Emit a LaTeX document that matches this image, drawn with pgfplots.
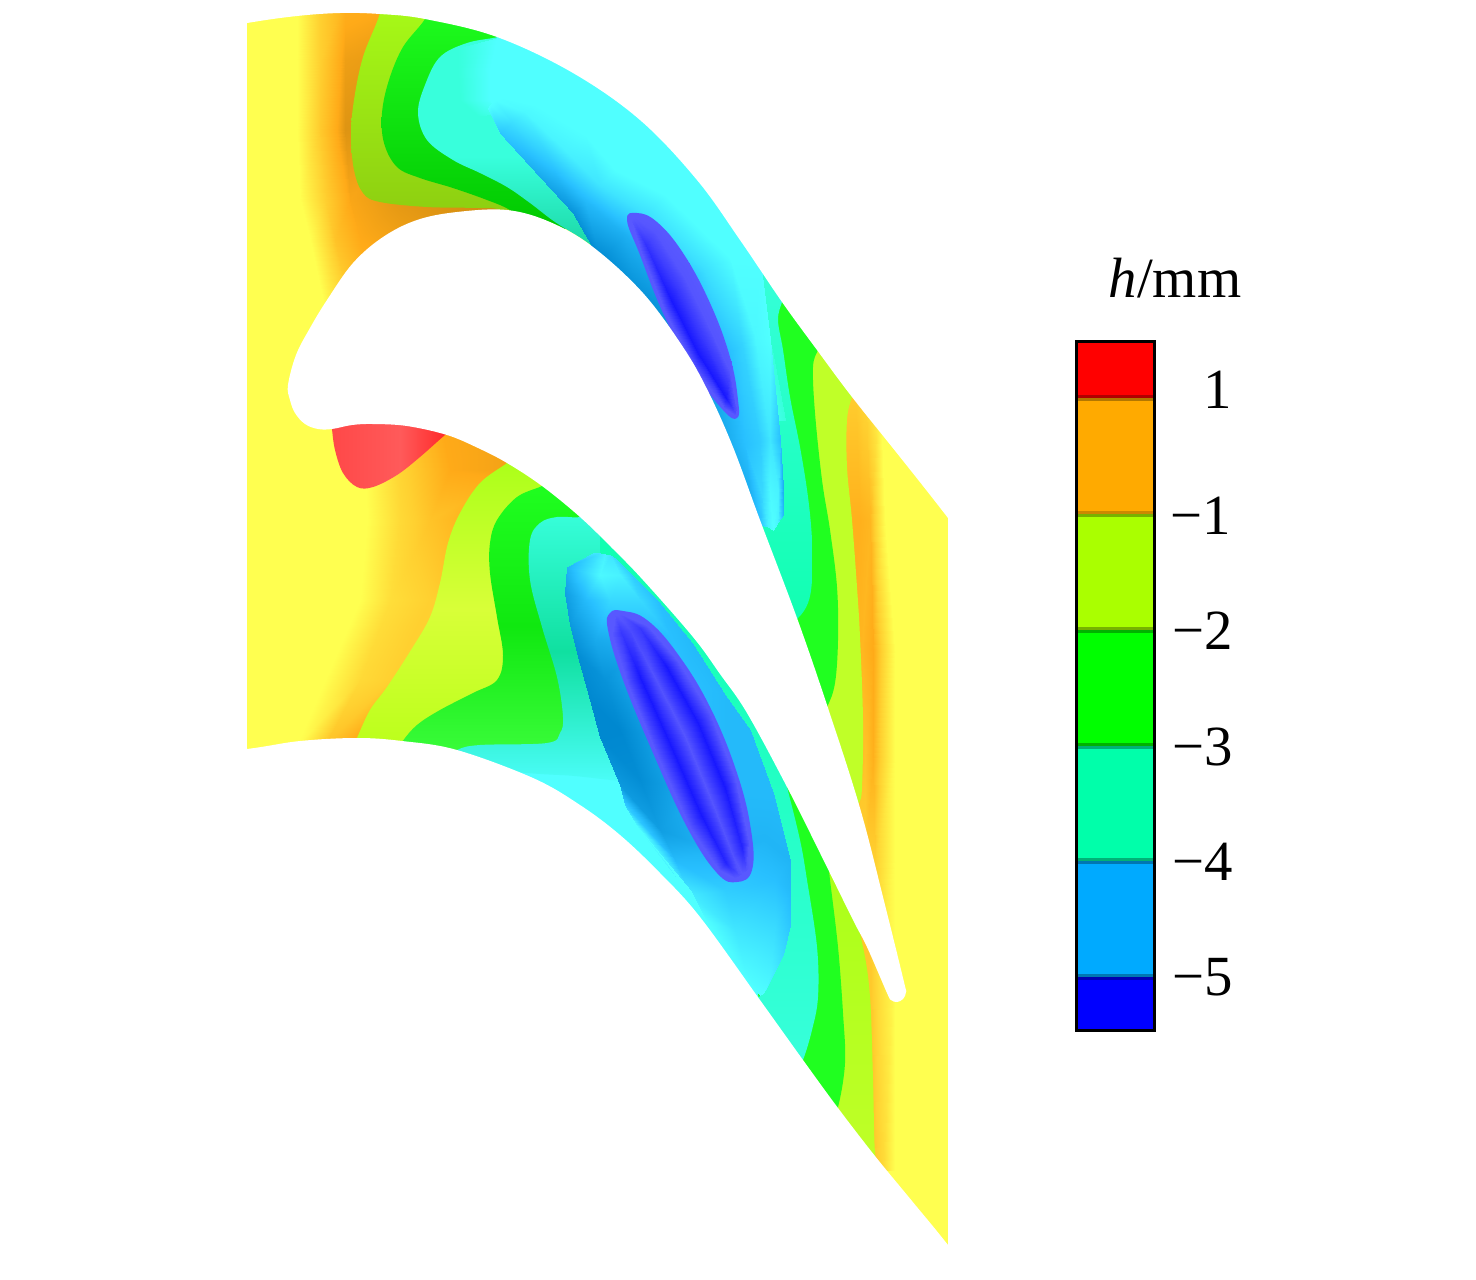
\documentclass[border=0pt]{standalone}
\usepackage{pgfplots}
\pgfplotsset{compat=1.18}
\usepackage{fontspec}
\setmainfont{Liberation Serif}

% contour band colours
\definecolor{cyl}{HTML}{FFFF50}
\definecolor{ccy}{HTML}{50FFFF}
\definecolor{ygA}{HTML}{AAFF18}
\definecolor{ygB}{HTML}{8CCC10}
\definecolor{ygC}{HTML}{D8FF38}
\definecolor{ygD}{HTML}{B8FF18}
\definecolor{ygR}{HTML}{C0FF28}
\definecolor{grA}{HTML}{20FF20}
\definecolor{grB}{HTML}{00C800}
\definecolor{grC}{HTML}{10E810}
\definecolor{grD}{HTML}{40FF40}
\definecolor{aqA}{HTML}{38FFDC}
\definecolor{aqB}{HTML}{10C890}
\definecolor{aqC}{HTML}{10FFB0}
\definecolor{aqD}{HTML}{10E0A0}
\definecolor{lowB}{HTML}{5858FF}
\definecolor{hotA}{HTML}{FF4848}
\definecolor{hotB}{HTML}{FF5A5A}
\definecolor{hotC}{HTML}{FF1010}
\definecolor{barO}{HTML}{FFAA00}
\definecolor{barY}{HTML}{AAFF00}
\definecolor{barA}{HTML}{00FFAA}
\definecolor{barB}{HTML}{00AAFF}

\pgfplotsset{
  colormap={yo}{rgb255(0pt)=(255,255,80); rgb255(5pt)=(255,208,48); rgb255(8pt)=(255,170,24); rgb255(10pt)=(200,134,15);},
  colormap={bc}{rgb255(0pt)=(80,255,255); rgb255(5pt)=(40,192,255); rgb255(10pt)=(0,136,208);},
  colormap={aq}{rgb255(0pt)=(80,255,255); rgb255(10pt)=(56,255,220);},
  colormap={db}{rgb255(0pt)=(88,88,255); rgb255(10pt)=(24,24,255);},
  fade/.style 2 args={surf,shader=interp,point meta=explicit,mesh/cols=#1,colormap name=#2},
  sm/.style={smooth,tension=.6},
  band/.style={fill=#1,draw=none},
}
\tikzset{lab/.style={font=\fontsize{28.5}{30}\selectfont,inner sep=0pt}}

\begin{document}
\begin{tikzpicture}
\begin{axis}[
  width=738bp, height=640bp, scale only axis,
  xmin=0, xmax=1476, ymin=0, ymax=1280, y dir=reverse,
  hide axis,
  point meta min=0, point meta max=1,
]
% page frame
\addplot[band=white] coordinates {(0,0)(1476,0)(1476,1280)(0,1280)} --cycle;
% base
\addplot[band=cyl] coordinates {(247,0)(948,0)(948,1280)(247,1280)} --cycle;

% orange, top passage
\addplot[fade={5}{yo}] coordinates {
 (297,0)[0] (320,0)[.5] (345,0)[.75] (400,0)[.8] (520,0)[.85]
 (297,60)[0] (320,60)[.5] (345,60)[.86] (400,60)[.9] (520,60)[.9]
 (297,130)[0] (320,130)[.55] (345,130)[.92] (400,130)[.9] (520,130)[.95]
 (300,200)[0] (325,200)[.5] (350,200)[.82] (400,200)[.9] (520,200)[1]
 (310,240)[0] (335,240)[.6] (360,240)[.8] (400,240)[.85] (520,240)[1]
 (325,310)[0] (350,310)[.5] (375,310)[.7] (410,310)[.8] (520,310)[1]
};
% orange, lower passage
\addplot[fade={4}{yo}] coordinates {
 (370,420)[0] (400,420)[.4] (440,420)[.8] (520,420)[.85]
 (365,470)[0] (400,470)[.45] (450,470)[.8] (520,470)[.85]
 (367,520)[0] (400,520)[.4] (430,520)[.6] (470,520)[.75]
 (360,600)[0] (390,600)[.35] (430,600)[.5] (470,600)[.5]
 (325,680)[0] (360,680)[.4] (390,680)[.5] (420,680)[.5]
 (297,745)[0] (325,745)[.6] (350,745)[.8] (380,745)[.8]
};
% orange strip, right side
\addplot[fade={4}{yo}] coordinates {
 (840,380)[.5] (855,380)[.5] (865,380)[.4] (880,380)[0]
 (845,520)[.75] (860,520)[.75] (870,520)[.7] (885,520)[0]
 (850,650)[.75] (862,650)[.7] (873,650)[.8] (895,650)[0]
 (855,760)[.7] (865,760)[.6] (873,760)[.75] (895,760)[0]
 (855,860)[.5] (865,860)[.5] (875,860)[.5] (895,860)[0]
 (855,940)[.6] (870,940)[.55] (880,940)[.3] (895,940)[0]
 (865,1170)[.6] (875,1170)[.55] (883,1170)[.4] (895,1170)[0]
};

% top passage, from the inlet side inwards
\addplot[sm,top color=ygA,bottom color=ygB,draw=none] coordinates {
 (385,-20)(380,13)(363,57)(354,100)(351,135)(354,170)(363,193)(380,202)(427,207)(480,208)(500,210)(530,225)(600,200)(560,60)(470,-20)} --cycle;
\addplot[sm,top color=grA,bottom color=grB,draw=none] coordinates {
 (435,-5)(425,19)(403,47)(389,80)(382,113)(384,143)(397,167)(420,178)(453,188)(487,200)(510,210)(540,230)(620,200)(560,40)(480,-5)} --cycle;
\addplot[sm,top color=aqA,bottom color=aqB,middle color=aqA,draw=none] coordinates {
 (520,30)(498,37)(467,43)(440,57)(425,85)(418,113)(427,140)(453,160)(480,173)(507,187)(530,203)(555,222)(593,247)(615,275)(640,200)(580,80)} --cycle;
\addplot[band=ccy] coordinates {
 (600,-5)(497,37)(489,60)(488,108)(500,133)(540,177)(573,213)(600,250)(640,310)(700,400)(800,400)(800,200)} --cycle;
% aqua into cyan at the top
\addplot[fade={2}{aq}] coordinates {
 (458,48)[1] (497,38)[0]
 (458,70)[1] (490,70)[0]
 (460,100)[1] (490,100)[0]
 (478,116)[1] (493,114)[.6]
};

% right side of top passage
\addplot[sm,band=ygR] coordinates {
 (858,385)(852,397)(847,420)(847,467)(852,520)(857,587)(860,637)(863,720)(862,787)(859,803)(850,820)(800,700)(780,500)(800,320)(840,370)} --cycle;
\addplot[sm,band=grA] coordinates {
 (822,340)(818,350)(813,367)(815,413)(822,480)(830,530)(837,587)(838,640)(835,683)(827,707)(815,725)(770,520)(770,320)(800,310)} --cycle;
\addplot[sm,top color=aqA,bottom color=aqC,draw=none] coordinates {
 (786,292)(782,302)(778,320)(783,350)(790,397)(800,447)(808,497)(812,540)(812,580)(808,603)(798,618)(785,625)(760,560)(745,480)(770,415)(752,350)(737,300)(727,250)(760,250)} --cycle;
\addplot[fade={2}{aq}] coordinates {
 (722,245)[0] (732,245)[.3]
 (732,300)[0] (752,300)[1]
 (748,350)[0] (772,350)[1]
 (765,420)[0] (785,420)[1]
};
% blue band along the top blade
\addplot[fade={5}{bc}] coordinates {
 (488,108)[0] (490,105)[0] (495,100)[0] (500,97)[0] (505,95)[0]
 (500,133)[.45] (512,122)[.25] (525,112)[.05] (535,105)[0] (545,100)[0]
 (540,177)[.7] (552,165)[.45] (565,150)[.1] (585,135)[0] (595,128)[0]
 (573,213)[.9] (585,200)[.55] (600,185)[.2] (615,170)[0] (640,150)[0]
 (600,260)[1] (625,235)[.65] (645,215)[.25] (665,195)[0] (695,180)[0]
 (640,310)[1] (680,285)[.65] (705,270)[.25] (730,258)[0] (760,260)[0]
 (685,380)[1] (725,355)[.55] (742,345)[.35] (755,335)[.05] (770,340)[0]
 (725,445)[.7] (745,445)[.5] (760,442)[.4] (770,440)[.2] (780,440)[.5]
 (750,495)[.65] (762,495)[.3] (770,493)[.05] (778,490)[.1] (783,488)[.65]
 (760,525)[.5] (768,527)[.1] (773,530)[0] (778,522)[.1] (783,515)[.55]
};
% upper low spot
\addplot[smooth cycle,tension=.7,band=lowB] coordinates {
 (627,220)(637,213)(657,222)(683,253)(710,303)(730,357)(738,400)(737,418)(723,410)(693,370)(663,313)(640,255)};
\addplot[fade={5}{db}] coordinates {
 (629,222)[0] (631,220)[0] (633,218)[0] (635,217)[0] (637,216)[0]
 (641,252)[0] (646,245)[.6] (650,239)[.3] (655,232)[.05] (660,227)[0]
 (665,312)[0] (671,300)[1] (677,288)[.5] (683,275)[.05] (689,263)[0]
 (695,369)[0] (699,355)[1] (703,339)[.5] (707,323)[.05] (711,309)[0]
 (724,408)[0] (726,398)[1] (728,385)[.5] (730,372)[.05] (731,362)[0]
 (735,415)[0] (735,412)[.2] (736,409)[.1] (736,406)[0] (737,403)[0]
};

% lower passage
\addplot[band=ccy] coordinates {
 (440,730)(620,730)(700,800)(790,990)(790,1100)(600,900)(440,800)} --cycle;
\addplot[sm,top color=ygA,bottom color=ygD,middle color=ygC,draw=none] coordinates {
 (515,455)(507,463)(480,483)(460,513)(448,543)(440,583)(430,617)(411,650)(387,687)(370,710)(357,738)(350,755)(400,760)(470,740)(530,720)(600,680)(610,480)} --cycle;
\addplot[sm,top color=grA,bottom color=grD,middle color=grC,draw=none] coordinates {
 (550,480)(542,486)(517,497)(497,520)(490,543)(490,573)(497,617)(503,655)(497,680)(473,693)(440,710)(417,725)(402,742)(395,755)(440,760)(470,750)(530,752)(600,740)(620,560)} --cycle;
\addplot[sm,top color=aqA,bottom color=ccy,middle color=aqD,draw=none] coordinates {
 (590,510)(580,517)(557,517)(540,523)(530,540)(530,580)(542,627)(557,677)(563,717)(560,733)(547,743)(480,745)(457,750)(440,762)(560,775)(680,770)(680,640)} --cycle;
% strips next to the lower blade, painted outwards in
\addplot[sm,top color=ygA,bottom color=ygR,draw=none] coordinates {
 (830,850)(850,900)(863,947)(870,997)(873,1080)(875,1153)(880,1170)(800,1120)(780,900)} --cycle;
\addplot[sm,band=grA] coordinates {
 (770,740)(800,770)(825,840)(830,880)(838,947)(843,1013)(845,1063)(838,1107)(830,1120)(770,1050)(740,850)} --cycle;
\addplot[sm,top color=aqC,bottom color=aqA,draw=none] coordinates {
 (600,530)(660,590)(710,650)(760,715)(780,760)(787,787)(800,840)(807,880)(817,947)(818,997)(812,1030)(803,1060)(795,1075)(740,1015)(763,993)(770,960)(760,850)(700,700)(650,620)(600,560)} --cycle;
% blue pool, lower blade
\addplot[fade={5}{bc}] coordinates {
 (593,553)[.2] (600,553)[.2] (605,554)[.1] (610,555)[.2] (615,558)[.3]
 (567,567)[.6] (585,572)[.3] (600,575)[.05] (620,575)[.1] (632,575)[.4]
 (565,593)[.8] (585,600)[.55] (610,600)[.3] (640,600)[.3] (658,601)[.5]
 (570,625)[.85] (595,640)[.7] (640,640)[.6] (670,635)[.5] (692,643)[.55]
 (577,653)[.95] (605,680)[.9] (650,680)[.6] (690,680)[.5] (725,695)[.55]
 (590,700)[1] (620,730)[1] (680,740)[.6] (725,740)[.55] (750,730)[.55]
 (600,737)[1] (640,780)[.95] (700,790)[.6] (745,790)[.55] (773,793)[.55]
 (620,785)[.85] (660,830)[.8] (715,850)[.6] (765,840)[.6] (790,860)[.6]
 (625,805)[.4] (675,860)[.55] (725,890)[.4] (775,880)[.5] (790,890)[.55]
 (640,830)[0] (690,895)[.15] (735,930)[.2] (775,925)[.3] (790,925)[.45]
 (665,860)[0] (705,920)[0] (745,970)[.05] (770,975)[.1] (783,955)[.3]
 (690,890)[0] (720,950)[0] (760,995)[0] (763,993)[0] (765,990)[.1]
};
\addplot[smooth cycle,tension=.7,band=lowB] coordinates {
 (610,613)(623,611)(647,620)(677,653)(710,707)(737,773)(751,830)(752,870)(737,882)(717,873)(687,827)(653,753)(623,680)(608,630)};
\addplot[fade={5}{db}] coordinates {
 (612,616)[0] (615,615)[0] (617,615)[0] (619,614)[0] (621,614)[0]
 (612,635)[0] (621,632)[.5] (630,630)[.2] (640,628)[.5] (648,626)[0]
 (627,683)[0] (640,677)[1] (652,672)[.1] (666,666)[1] (678,661)[0]
 (657,755)[0] (670,744)[1] (684,734)[.05] (698,723)[1] (710,713)[0]
 (690,828)[0] (701,815)[1] (712,802)[.05] (725,788)[1] (735,777)[0]
 (719,870)[0] (726,863)[.8] (733,856)[.1] (742,848)[.8] (749,842)[0]
 (735,878)[0] (739,875)[.1] (742,873)[0] (746,870)[.1] (749,867)[0]
};
% hot spot at the blade's lower side
\addplot[sm,left color=hotA,right color=hotC,middle color=hotB,draw=none] coordinates {
 (331,415)(332,429)(335,450)(343,473)(357,487)(373,487)(397,475)(420,457)(445,435)(470,415)} --cycle;

% white outside the passage and inside the blade
\addplot[sm,band=white] coordinates {
 (150,40)(247,23)(297,16)(340,13)(380,14)(425,19)(497,37)(573,73)(640,120)(697,180)(740,240)(782,302)(817,350)(852,397)(900,457)(948,518)(1010,600)(1010,-20)(150,-20)} --cycle;
\addplot[sm,band=white] coordinates {
 (150,760)(247,749)(300,741)(357,738)(402,741)(457,750)(533,778)(580,805)(620,835)(660,873)(700,917)(760,1000)(803,1060)(838,1108)(875,1156)(912,1201)(948,1245)(1010,1325)(1010,1400)(150,1400)} --cycle;
\addplot[band=white] coordinates {(150,-20)(247,-20)(247,1300)(150,1300)} --cycle;
\addplot[band=white] coordinates {(948,-20)(1020,-20)(1020,1300)(948,1300)} --cycle;
\addplot[smooth cycle,tension=.6,band=white] coordinates {
 (288,385)(296,355)(310,328)(327,300)(353,263)(383,237)(417,220)(457,212)(507,210)(550,222)(593,247)(643,293)(683,347)(708,391)(733,447)(760,520)(797,618)(827,705)(860,808)(885,905)(904,982)(906,992)(903,999)(897,1002)(891,1000)(887,993)(867,947)(853,920)(820,853)(787,787)(747,713)(720,674)(693,637)(643,580)(612,548)(580,517)(542,486)(507,463)(478,448)(447,435)(407,426)(373,424)(352,425)(332,429)(318,429)(305,424)(295,413)(290,400)};

% colour bar
\addplot[band=black] coordinates {(1075,340)(1156,340)(1156,1032)(1075,1032)} --cycle;
\addplot[band=red] coordinates {(1078,343)(1153,343)(1153,398)(1078,398)} --cycle;
\addplot[band=barO] coordinates {(1078,398)(1153,398)(1153,514)(1078,514)} --cycle;
\addplot[band=barY] coordinates {(1078,514)(1153,514)(1153,630)(1078,630)} --cycle;
\addplot[band=green] coordinates {(1078,630)(1153,630)(1153,746)(1078,746)} --cycle;
\addplot[band=barA] coordinates {(1078,746)(1153,746)(1153,861)(1078,861)} --cycle;
\addplot[band=barB] coordinates {(1078,861)(1153,861)(1153,977)(1078,977)} --cycle;
\addplot[band=blue] coordinates {(1078,977)(1153,977)(1153,1029)(1078,1029)} --cycle;
% darker seams between the bands
\addplot[band=red!70!black] coordinates {(1078,394.5)(1153,394.5)(1153,398)(1078,398)} --cycle;
\addplot[band=barO!70!black] coordinates {(1078,398)(1153,398)(1153,401)(1078,401)} --cycle;
\addplot[band=barO!80!black] coordinates {(1078,510.5)(1153,510.5)(1153,514)(1078,514)} --cycle;
\addplot[band=barY!70!black] coordinates {(1078,514)(1153,514)(1153,517)(1078,517)} --cycle;
\addplot[band=barY!70!black] coordinates {(1078,626.5)(1153,626.5)(1153,630)(1078,630)} --cycle;
\addplot[band=green!70!black] coordinates {(1078,630)(1153,630)(1153,633)(1078,633)} --cycle;
\addplot[band=green!70!black] coordinates {(1078,742.5)(1153,742.5)(1153,746)(1078,746)} --cycle;
\addplot[band=barA!70!black] coordinates {(1078,746)(1153,746)(1153,749)(1078,749)} --cycle;
\addplot[band=barA!70!black] coordinates {(1078,857.5)(1153,857.5)(1153,861)(1078,861)} --cycle;
\addplot[band=barB!70!black] coordinates {(1078,861)(1153,861)(1153,864)(1078,864)} --cycle;
\addplot[band=barB!70!black] coordinates {(1078,973.5)(1153,973.5)(1153,977)(1078,977)} --cycle;
\addplot[band=blue!70!black] coordinates {(1078,977)(1153,977)(1153,980)(1078,980)} --cycle;
\node[lab] at (axis cs:1175,278) {\textit{h}/mm};
\node[lab] at (axis cs:1218,390) {1};
\node[lab] at (axis cs:1201,516) {−1};
\node[lab] at (axis cs:1203,631) {−2};
\node[lab] at (axis cs:1203,747) {−3};
\node[lab] at (axis cs:1203,862) {−4};
\node[lab] at (axis cs:1203,977) {−5};
\end{axis}
\end{tikzpicture}
\end{document}
